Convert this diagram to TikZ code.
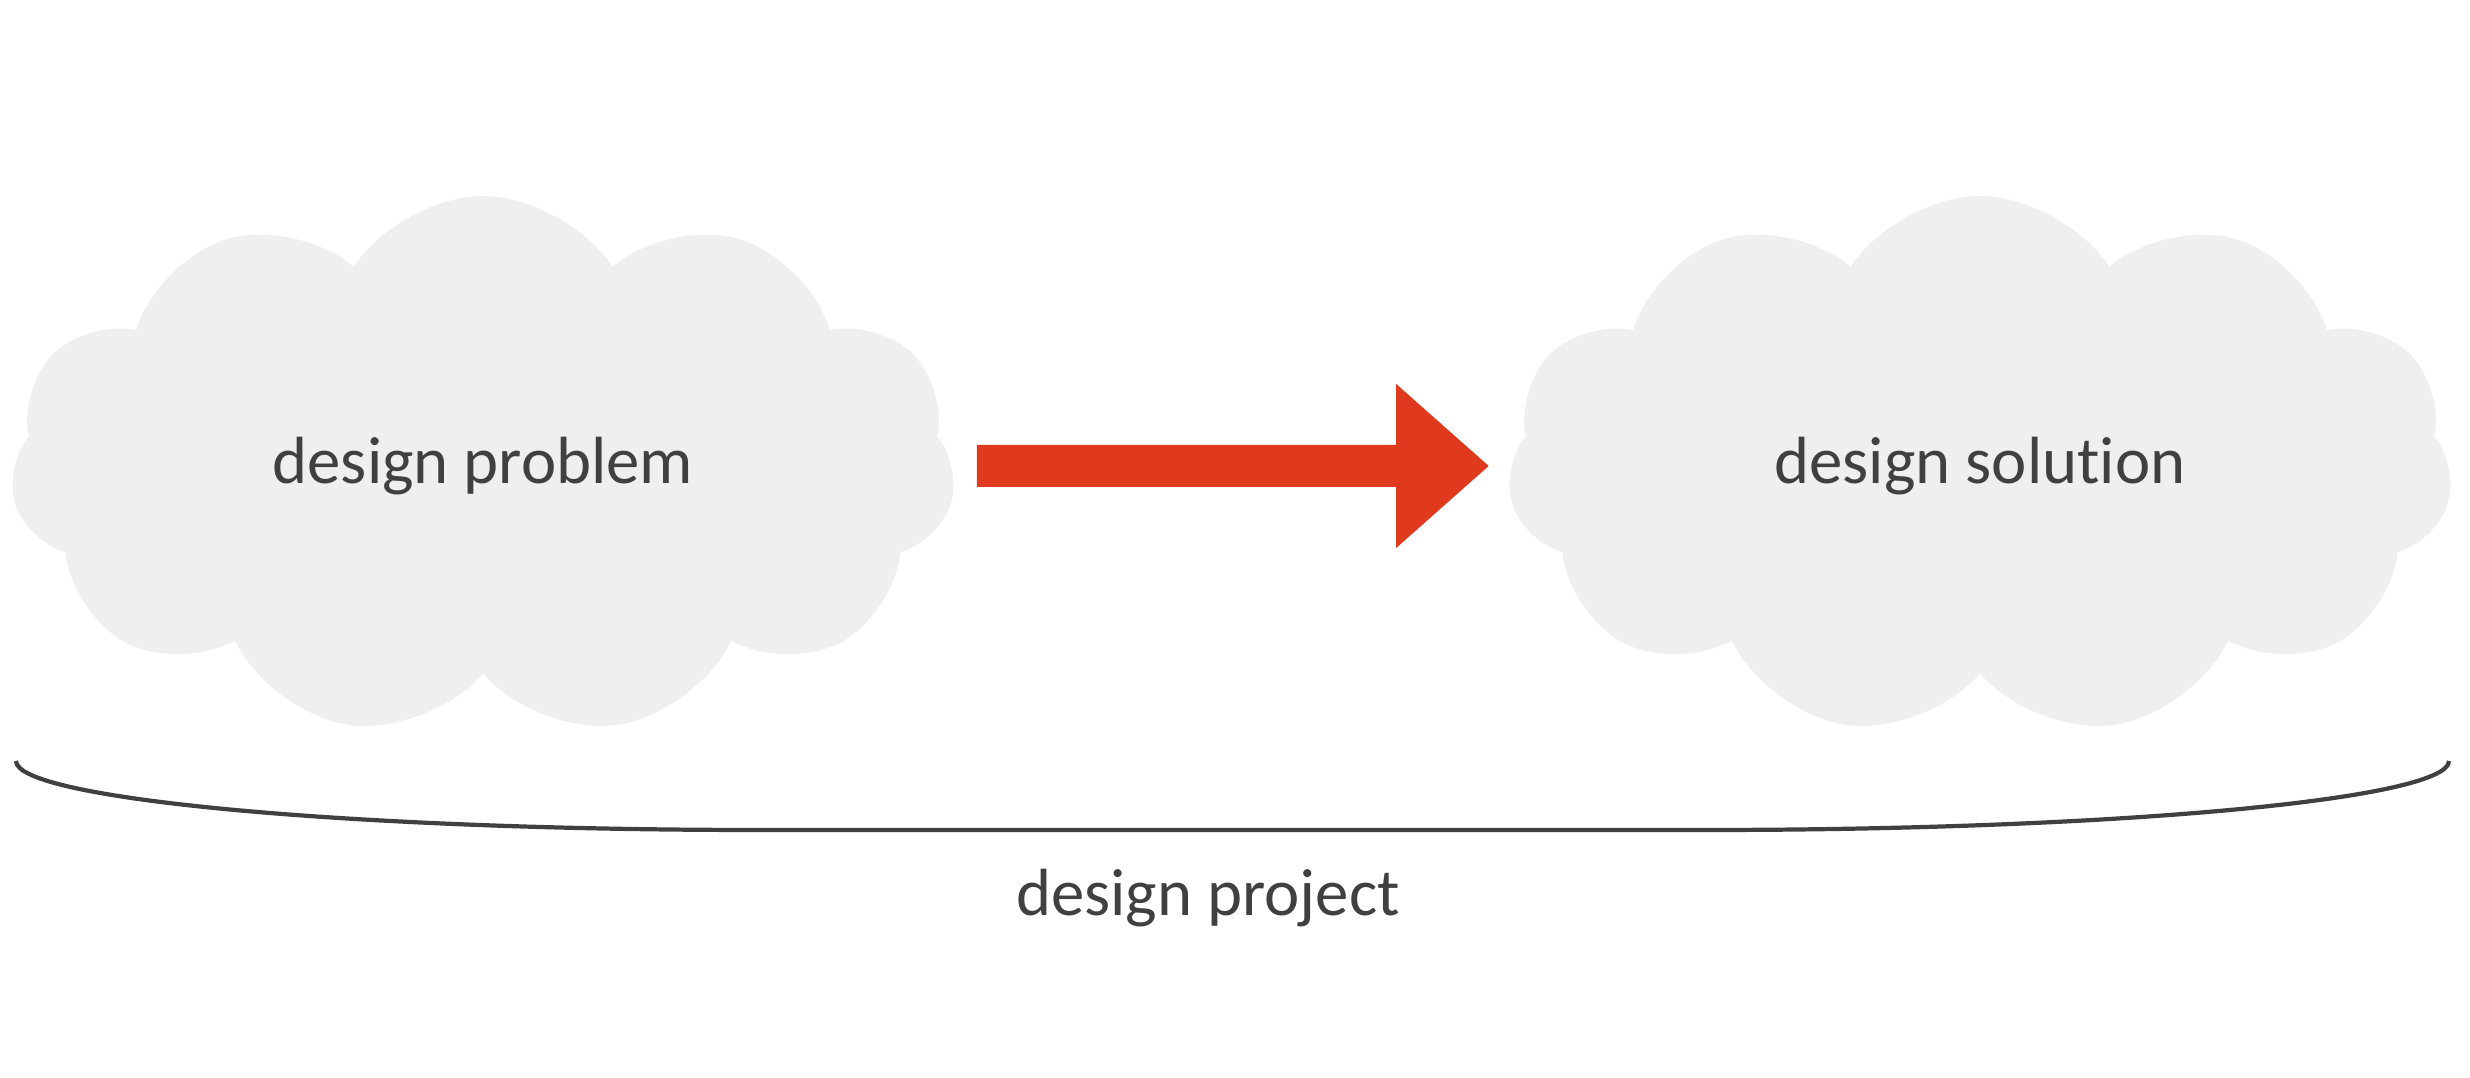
\documentclass[tikz,border=0pt]{standalone}
\usepackage{fontspec}
\setmainfont{Carlito}[Ligatures=NoCommon]
\usepackage{tikz}
\usetikzlibrary{
  arrows.meta,
  positioning,
  calc,
  shapes.symbols
}
\definecolor{TextGray}{RGB}{64,64,64}
\definecolor{CloudGray}{RGB}{239,239,239}
\definecolor{FlowRed}{RGB}{223,58,30}
\tikzset{
  cloudbox/.style={
    cloud,
    cloud puffs=11,
    cloud puff arc=115,
    cloud ignores aspect,
    fill=CloudGray,
    draw=none,
    minimum width=9.45cm,
    minimum height=5.4cm,
    text=TextGray,
    font=\fontsize{19}{23}\selectfont
  },
  bigarrow/.style={-{Triangle[length=9.3mm,width=15.8mm]},line width=4.2mm,draw=FlowRed},
  bracket/.style={line width=1.2pt,draw=TextGray},
  label/.style={text=TextGray,font=\fontsize{19}{23}\selectfont}
}
\begin{document}
\begin{tikzpicture}
  \useasboundingbox (0,0) rectangle (24.7,10.78);
  \node[cloudbox] (prob) at (4.83,6.12) {design problem};
  \node[cloudbox] (sol) at (19.80,6.12) {design solution};

  \draw[bigarrow, shorten <=2.4mm, shorten >=2.1mm] (prob.east) -- (sol.west);

  \coordinate (bl) at (0.16,3.17);
  \coordinate (br) at (24.49,3.17);
  \draw[bracket] (bl) arc[start angle=180, end angle=270, x radius=7.4, y radius=0.69]
    -- ($(br)+(-7.4,-0.69)$) arc[start angle=270, end angle=360, x radius=7.4, y radius=0.69];
  \node[label] (proj) at (12.08,1.80) {design project};
\end{tikzpicture}
\end{document}
